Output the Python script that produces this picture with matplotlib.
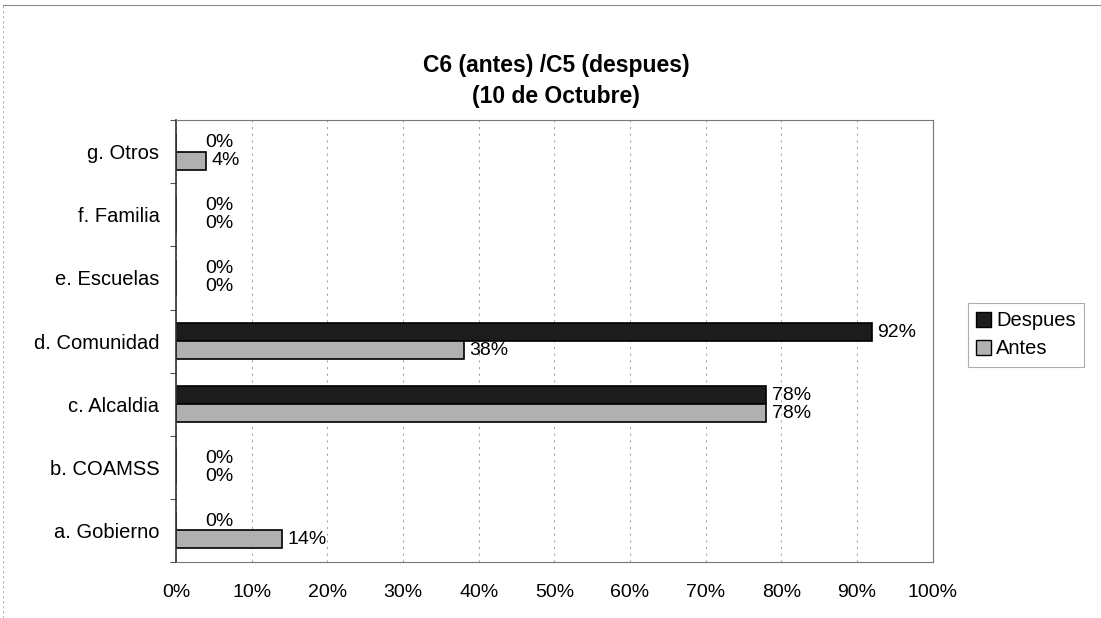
import matplotlib
matplotlib.use("Agg")

import numpy as np
import matplotlib.pyplot as plt
from matplotlib.ticker import FixedLocator, PercentFormatter
from matplotlib.lines import Line2D

plt.rcParams["font.family"] = ["Liberation Sans", "DejaVu Sans"]

categorias = ["a. Gobierno", "b. COAMSS", "c. Alcaldia", "d. Comunidad",
              "e. Escuelas", "f. Familia", "g. Otros"]
antes = [14, 0, 78, 38, 0, 0, 4]
despues = [0, 0, 78, 92, 0, 0, 0]
ticks_x = [0, 10, 20, 30, 40, 50, 60, 70, 80, 90, 100]

fig = plt.figure(figsize=(11.01, 6.18), dpi=100)
ax = fig.add_axes([0.160, 0.0906, 0.687, 0.715])

y = np.arange(len(categorias))
h = 0.285

b_desp = ax.barh(y + h / 2, despues, height=h, color="#1c1c1c",
                 edgecolor="black", linewidth=1.2, label="Despues")
b_ant = ax.barh(y - h / 2, antes, height=h, color="#b0b0b0",
                edgecolor="black", linewidth=1.2, label="Antes")

for barras, vals in ((b_desp, despues), (b_ant, antes)):
    for rect, v in zip(barras, vals):
        off = 4 if v > 0 else 21
        ax.annotate(f"{v}%", (rect.get_width(), rect.get_y() + rect.get_height() / 2),
                    xytext=(off, 0), textcoords="offset points",
                    ha="left", va="center", fontsize=14)

ax.set_xlim(0, 100)
ax.set_ylim(-0.5, len(categorias) - 0.5)
ax.set_xticks(ticks_x)
ax.xaxis.set_major_formatter(PercentFormatter(decimals=0))
ax.tick_params(axis="x", length=0, pad=16, labelsize=14)
ax.set_yticks(y)
ax.set_yticklabels(categorias)
ax.tick_params(axis="y", which="major", length=0, pad=12, labelsize=14.5)
ax.yaxis.set_minor_locator(FixedLocator(np.arange(-0.5, len(categorias), 1.0)))
ax.tick_params(axis="y", which="minor", length=4, width=0.8, color="#555555")

ax.grid(axis="x", color="#a8a8a8", linestyle=(0, (2, 4)), linewidth=0.8)
ax.set_axisbelow(True)
for lado, sp in ax.spines.items():
    sp.set_color("#777777")
    sp.set_linewidth(0.8)
ax.spines["left"].set_color("#333333")
ax.spines["left"].set_linewidth(1.2)

fig.text(0.505, 0.869, "C6 (antes) /C5 (despues)\n(10 de Octubre)",
         ha="center", va="center", fontsize=16.5, fontweight="bold", linespacing=1.4)

handles = [plt.Rectangle((0, 0), 1, 1, facecolor="#1c1c1c", edgecolor="black"),
           plt.Rectangle((0, 0), 1, 1, facecolor="#b0b0b0", edgecolor="black")]
leg = fig.legend(handles, ["Despues", "Antes"], loc="center left",
                 bbox_to_anchor=(0.879, 0.458), fontsize=14.5, frameon=True,
                 fancybox=False, handlelength=0.75, handleheight=0.75,
                 handletextpad=0.25, borderpad=0.4, labelspacing=0.45,
                 borderaxespad=0)
leg.get_frame().set_edgecolor("#999999")
leg.get_frame().set_linewidth(0.8)

# marco del grafico
fig.add_artist(Line2D([0.003, 1.0], [0.992, 0.992], color="#888888", linewidth=0.8))
fig.add_artist(Line2D([0.003, 0.003], [0.0, 0.992], color="#aaaaaa", linewidth=0.6,
                      linestyle=(0, (3, 3))))

fig.savefig("out.png", dpi=100)
